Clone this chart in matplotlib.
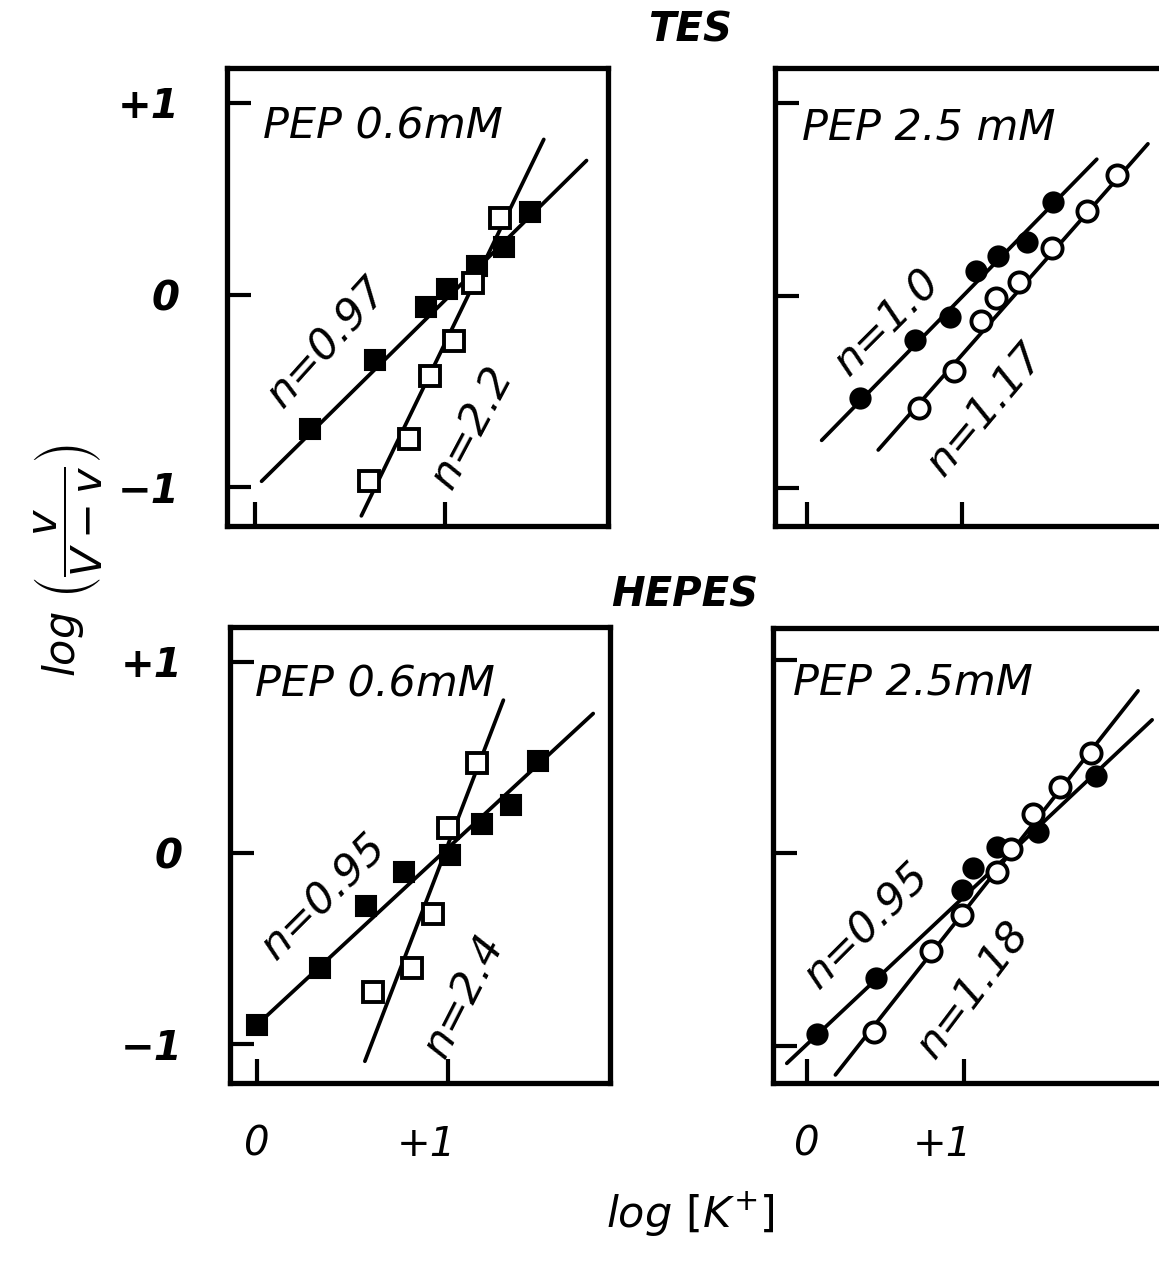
import numpy as np
import matplotlib
matplotlib.use("Agg")
import matplotlib.pyplot as plt
from matplotlib.transforms import ScaledTranslation

plt.rcParams['font.family'] = ['DejaVu Sans']
plt.rcParams['mathtext.fontset'] = 'dejavusans'

# ---- dados (log[K+] , log(v/(V-v))) ----
# TES, PEP 0.6 mM
tes06_fill_x = [0.29, 0.63, 0.90, 1.01, 1.17, 1.31, 1.45]
tes06_fill_y = [-0.70, -0.34, -0.06, 0.03, 0.15, 0.25, 0.43]
tes06_open_x = [0.60, 0.81, 0.92, 1.05, 1.15, 1.29]
tes06_open_y = [-0.97, -0.75, -0.42, -0.24, 0.06, 0.40]
tes06_fill_fit_x = [0.035, 1.745]
tes06_fill_fit_y = [-0.97, 0.70]
tes06_open_fit_x = [0.56, 1.52]
tes06_open_fit_y = [-1.15, 0.81]

# TES, PEP 2.5 mM
tes25_fill_x = [0.34, 0.70, 0.92, 1.09, 1.23, 1.42, 1.59]
tes25_fill_y = [-0.53, -0.23, -0.11, 0.13, 0.21, 0.28, 0.49]
tes25_open_x = [0.72, 0.95, 1.12, 1.22, 1.37, 1.58, 1.81, 2.00]
tes25_open_y = [-0.58, -0.39, -0.13, -0.01, 0.07, 0.25, 0.44, 0.63]
tes25_fill_fit_x = [0.095, 1.87]
tes25_fill_fit_y = [-0.75, 0.71]
tes25_open_fit_x = [0.46, 2.20]
tes25_open_fit_y = [-0.80, 0.79]

# HEPES, PEP 0.6 mM
hep06_fill_x = [0.00, 0.33, 0.57, 0.77, 1.01, 1.18, 1.33, 1.47]
hep06_fill_y = [-0.90, -0.60, -0.28, -0.10, -0.01, 0.15, 0.25, 0.48]
hep06_open_x = [0.61, 0.81, 0.92, 1.00, 1.15]
hep06_open_y = [-0.73, -0.60, -0.32, 0.13, 0.47]
hep06_fill_fit_x = [0.0, 1.76]
hep06_fill_fit_y = [-0.90, 0.73]
hep06_open_fit_x = [0.565, 1.29]
hep06_open_fit_y = [-1.09, 0.80]

# HEPES, PEP 2.5 mM
hep25_fill_x = [0.06, 0.44, 0.99, 1.06, 1.21, 1.47, 1.84]
hep25_fill_y = [-0.94, -0.65, -0.19, -0.08, 0.03, 0.11, 0.40]
hep25_open_x = [0.425, 0.79, 0.99, 1.21, 1.30, 1.44, 1.61, 1.81]
hep25_open_y = [-0.93, -0.51, -0.32, -0.10, 0.02, 0.20, 0.34, 0.52]
hep25_fill_fit_x = [-0.13, 2.20]
hep25_fill_fit_y = [-1.09, 0.69]
hep25_open_fit_x = [0.18, 2.11]
hep25_open_fit_y = [-1.15, 0.84]

x_ticks = [0, 1]
x_ticklabels = ['0', '+1']
y_ticks = [-1, 0, 1]
y_ticklabels = ['\u22121', '0', '+1']

W, H = 1159, 1267
fig = plt.figure(figsize=(W / 100, H / 100), dpi=100)


def px_axes(left, right, top, bottom):
    # caixa em pixels da imagem -> fracao da figura
    return fig.add_axes([left / W, 1 - bottom / H, (right - left) / W, (bottom - top) / H])


ax_tl = px_axes(227, 608, 68, 526)
ax_tr = px_axes(775, 1178, 68, 526)
ax_bl = px_axes(230, 610, 627, 1083)
ax_br = px_axes(773, 1178, 628, 1083)

lw_fit = 2.7
ms = 14.5


def setup(ax, xlim, ylim, show_x, show_y):
    ax.set_xlim(xlim)
    ax.set_ylim(ylim)
    ax.set_xticks(x_ticks)
    ax.set_yticks(y_ticks)
    ax.tick_params(direction='in', length=17, width=3, pad=34, labelsize=29)
    ax.tick_params(axis='x', pad=30)
    for s in ax.spines.values():
        s.set_linewidth(3.8)
    if show_x:
        ax.set_xticklabels(x_ticklabels, fontstyle='italic')
        lab = ax.get_xticklabels()[1]
        lab.set_transform(lab.get_transform() + ScaledTranslation(-0.22, 0, fig.dpi_scale_trans))
    else:
        ax.set_xticklabels([])
    if show_y:
        ax.set_yticklabels(y_ticklabels, fontstyle='italic', fontweight='bold')
    else:
        ax.set_yticklabels([])


def draw(ax, fx, fy, ox, oy, ffx, ffy, ofx, ofy, marker):
    ax.plot(ffx, ffy, color='black', lw=lw_fit, solid_capstyle='round', zorder=2)
    ax.plot(ofx, ofy, color='black', lw=lw_fit, solid_capstyle='round', zorder=2)
    ax.plot(fx, fy, ls='none', marker=marker, ms=ms, mfc='black', mec='black', mew=1.5, zorder=3)
    ax.plot(ox, oy, ls='none', marker=marker, ms=ms, mfc='white', mec='black', mew=2.8, zorder=4)


draw(ax_tl, tes06_fill_x, tes06_fill_y, tes06_open_x, tes06_open_y,
     tes06_fill_fit_x, tes06_fill_fit_y, tes06_open_fit_x, tes06_open_fit_y, 's')
draw(ax_tr, tes25_fill_x, tes25_fill_y, tes25_open_x, tes25_open_y,
     tes25_fill_fit_x, tes25_fill_fit_y, tes25_open_fit_x, tes25_open_fit_y, 'o')
draw(ax_bl, hep06_fill_x, hep06_fill_y, hep06_open_x, hep06_open_y,
     hep06_fill_fit_x, hep06_fill_fit_y, hep06_open_fit_x, hep06_open_fit_y, 's')
draw(ax_br, hep25_fill_x, hep25_fill_y, hep25_open_x, hep25_open_y,
     hep25_fill_fit_x, hep25_fill_fit_y, hep25_open_fit_x, hep25_open_fit_y, 'o')

setup(ax_tl, (-0.147, 1.858), (-1.203, 1.182), False, True)
setup(ax_tr, (-0.206, 2.394), (-1.195, 1.184), False, False)
setup(ax_bl, (-0.141, 1.848), (-1.204, 1.183), True, True)
setup(ax_br, (-0.218, 2.365), (-1.192, 1.166), True, False)

# rotulos dentro dos paineis
txt = dict(fontsize=31, fontstyle='italic', va='center')
ax_tl.text(0.04, 0.875, 'PEP 0.6mM', ha='left', **txt)
ax_tr.text(-0.03, 0.87, 'PEP 2.5 mM', ha='left', **txt)
ax_bl.text(-0.01, 0.88, 'PEP 0.6mM', ha='left', **txt)
ax_br.text(-0.09, 0.88, 'PEP 2.5mM', ha='left', **txt)

ntxt = dict(fontsize=31, fontstyle='italic', ha='center', va='center', rotation_mode='anchor')
ax_tl.text(0.38, -0.25, 'n=0.97', rotation=48, **ntxt)
ax_tl.text(1.14, -0.69, 'n=2.2', rotation=62, **ntxt)
ax_tr.text(0.52, -0.14, 'n=1.0', rotation=45, **ntxt)
ax_tr.text(1.15, -0.59, 'n=1.17', rotation=50, **ntxt)
ax_bl.text(0.35, -0.23, 'n=0.95', rotation=45, **ntxt)
ax_bl.text(1.08, -0.75, 'n=2.4', rotation=63, **ntxt)
ax_br.text(0.38, -0.38, 'n=0.95', rotation=45, **ntxt)
ax_br.text(1.06, -0.71, 'n=1.18', rotation=53, **ntxt)

# titulos e eixos
fig.text(690 / W, 1 - 30 / H, 'TES', ha='center', va='center', fontsize=29,
         fontstyle='italic', fontweight='bold')
fig.text(685 / W, 1 - 596 / H, 'HEPES', ha='center', va='center', fontsize=29,
         fontstyle='italic', fontweight='bold')
fig.text(68 / W, 1 - 560 / H, r'$log\ \left(\dfrac{v}{V-v}\right)$', rotation=90,
         ha='center', va='center', fontsize=31)
fig.text(690 / W, 1 - 1215 / H, r'$log\ \left[K^{+}\right]$', ha='center', va='center',
         fontsize=31)

fig.savefig('out.png', dpi=100)
